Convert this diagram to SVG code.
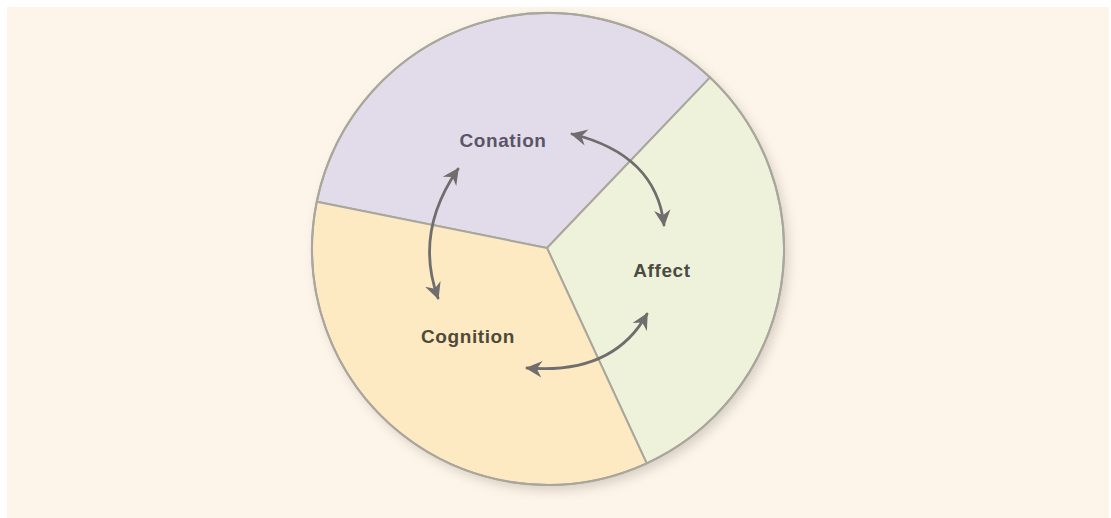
<svg xmlns="http://www.w3.org/2000/svg" width="1111" height="518" viewBox="0 0 1111 518">
  <style>
    .sector { stroke: #a9a69c; stroke-width: 2; stroke-linejoin: round; }
    .label { font-family: "Liberation Sans", Arial, sans-serif; font-weight: bold; font-size: 19px; letter-spacing: 0.6px; text-anchor: middle; }
    .conn { fill: none; stroke: #6f6d6d; stroke-width: 2.8; stroke-linecap: round; marker-start: url(#head); marker-end: url(#head); }
  </style>
  <defs>
    <filter id="shadow" x="-20%" y="-20%" width="140%" height="140%">
      <feGaussianBlur stdDeviation="6"/>
    </filter>
    <marker id="head" viewBox="0 0 12 12" refX="10" refY="6" markerWidth="18" markerHeight="18" markerUnits="userSpaceOnUse" orient="auto-start-reverse">
      <path d="M0,0.5 L11,6 L0,11.5 L3.5,6 Z" fill="#6f6d6d"/>
    </marker>
  </defs>
  <rect x="0" y="0" width="1111" height="518" fill="#ffffff"/>
  <rect x="7" y="7" width="1102" height="511" fill="#fdf5ea"/>
  <circle cx="552" cy="254" r="236" fill="#b5aca0" opacity="0.55" filter="url(#shadow)"/>
  <g id="conation">
    <path class="sector" d="M547,248 L316.8,201.7 A236,236 0 0 1 710.1,77.4 Z" fill="#e2dcea"/>
    <text class="label" x="503" y="147" fill="#5a5468">Conation</text>
  </g>
  <g id="affect">
    <path class="sector" d="M547,248 L710.1,77.4 A236,236 0 0 1 646.7,463.3 Z" fill="#eef2db"/>
    <text class="label" x="662" y="277" fill="#4b4b42">Affect</text>
  </g>
  <g id="cognition">
    <path class="sector" d="M547,248 L646.7,463.3 A236,236 0 0 1 316.8,201.7 Z" fill="#fdeac3"/>
    <text class="label" x="468" y="343" fill="#4f4a38">Cognition</text>
  </g>
  <circle cx="548" cy="249" r="236" fill="none" stroke="#a9a69c" stroke-width="2"/>
  <g id="connectors">
    <path class="conn" d="M458,169 Q414,232.5 438,298"/>
    <path class="conn" d="M572,134 Q656,154.5 664,225"/>
    <path class="conn" d="M527,368 Q613,375 647,314"/>
  </g>
</svg>
